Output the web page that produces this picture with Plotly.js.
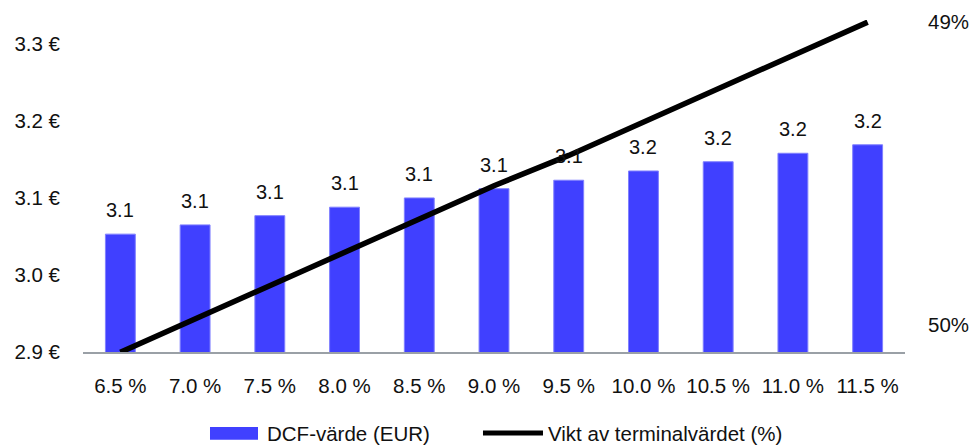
<!DOCTYPE html>
<html>
<head>
<meta charset="utf-8">
<script src="https://cdn.plot.ly/plotly-3.0.1.min.js"></script>
<style>html,body{margin:0;padding:0;background:#fff;}#chart{width:971px;height:445px;}</style>
</head>
<body>
<div id="chart"></div>
<script>
const categories = ["6.5 %","7.0 %","7.5 %","8.0 %","8.5 %","9.0 %","9.5 %","10.0 %","10.5 %","11.0 %","11.5 %"];
const dcfValues = [3.053, 3.065, 3.077, 3.088, 3.100, 3.112, 3.123, 3.135, 3.147, 3.158, 3.169];
const dcfLabels = ["3.1","3.1","3.1","3.1","3.1","3.1","3.1","3.2","3.2","3.2","3.2"];
const tvWeight = [50.09, 49.98, 49.87, 49.76, 49.65, 49.54, 49.44, 49.33, 49.22, 49.11, 49.00];
const leftTicks = [2.9, 3.0, 3.1, 3.2, 3.3];
const leftTickText = ["2.9 €","3.0 €","3.1 €","3.2 €","3.3 €"];
const rightTicks = [50, 49];
const rightTickText = ["50%","49%"];
const seriesNames = ["DCF-värde (EUR)", "Vikt av terminalvärdet (%)"];

const font = "Liberation Sans, Arial, sans-serif";
const txtColor = "#111";

const bars = {
  type: "bar", x: categories, y: dcfValues, name: seriesNames[0],
  marker: {color: "#4040ff", line: {color: "#8080ff", width: 1}},
  width: 0.4, yaxis: "y", hoverinfo: "skip", showlegend: false
};
const line = {
  type: "scatter", mode: "lines", x: categories, y: tvWeight, name: seriesNames[1],
  line: {color: "#000000", width: 5.5}, yaxis: "y2", cliponaxis: false, hoverinfo: "skip", showlegend: false
};

const annotations = categories.map((c, i) => ({
  x: c, y: dcfValues[i], xref: "x", yref: "y",
  text: dcfLabels[i], showarrow: false,
  yanchor: "bottom", yshift: 11,
  font: {family: font, size: 20, color: txtColor}
}));
// custom legend text
annotations.push({
  xref: "paper", yref: "paper", x: 0.2214, y: -0.244, xanchor: "left", yanchor: "middle",
  text: seriesNames[0], showarrow: false, font: {family: font, size: 20.5, color: txtColor}
});
annotations.push({
  xref: "paper", yref: "paper", x: 0.5633, y: -0.244, xanchor: "left", yanchor: "middle",
  text: seriesNames[1], showarrow: false, font: {family: font, size: 20.5, color: txtColor}
});

const shapes = [
  {type: "rect", xref: "paper", yref: "paper", x0: 0.1545, x1: 0.2129, y0: -0.264, y1: -0.2259,
   fillcolor: "#4040ff", line: {width: 0}},
  {type: "line", xref: "paper", yref: "paper", x0: 0.4866, x1: 0.5596, y0: -0.244, y1: -0.244,
   line: {color: "#000", width: 5}}
];

const layout = {
  width: 971, height: 445,
  margin: {l: 83, r: 66, t: 20, b: 93},
  paper_bgcolor: "#fff", plot_bgcolor: "#fff",
  showlegend: false,
  font: {family: font, size: 20, color: txtColor},
  xaxis: {
    type: "category", showgrid: false, zeroline: false,
    showline: true, linecolor: "#9aa0a6", linewidth: 2,
    ticks: "", ticklabelstandoff: 14,
    tickfont: {family: font, size: 20.5, color: txtColor}
  },
  yaxis: {
    range: [2.9, 3.331], showgrid: false, zeroline: false, showline: false,
    tickvals: leftTicks, ticktext: leftTickText, ticks: "",
    ticklabelstandoff: 22,
    tickfont: {family: font, size: 20.5, color: txtColor}
  },
  yaxis2: {
    overlaying: "y", side: "right",
    range: [50.089, 48.993], showgrid: false, zeroline: false, showline: false,
    tickvals: rightTicks, ticktext: rightTickText, ticks: "",
    ticklabelstandoff: 22,
    tickfont: {family: font, size: 20.5, color: txtColor}
  },
  annotations: annotations,
  shapes: shapes
};

Plotly.newPlot("chart", [bars, line], layout, {displayModeBar: false, staticPlot: true});
</script>
</body>
</html>
